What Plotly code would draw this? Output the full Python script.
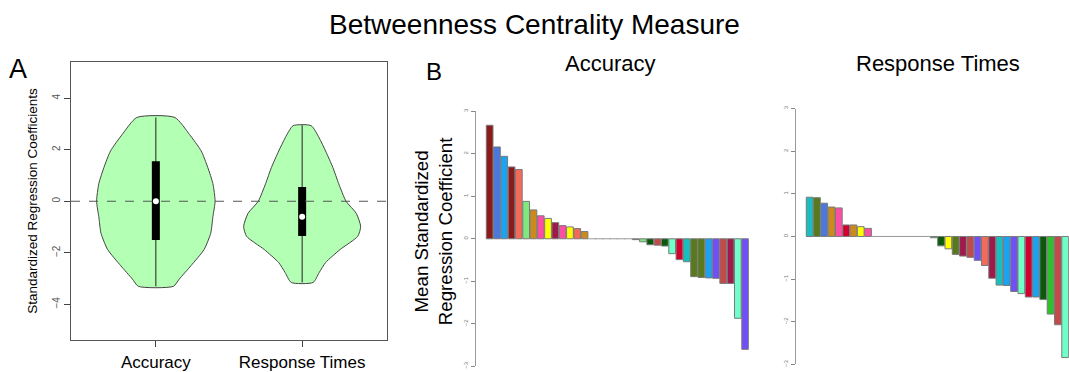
import plotly.graph_objects as go

W, H = 1069, 372
FONT = "Liberation Sans, Arial, sans-serif"

# ---------------- Panel A data (violin outlines) ----------
violin_cats = ["Accuracy", "Response Times"]
acc_vy = [3.25, 2.59, 1.95, 1.31, 0.68, 0.0, -0.6, -1.24, -1.87, -2.5, -3.02, -3.3]
acc_hw = [0.13, 0.23, 0.31, 0.355, 0.39, 0.405, 0.39, 0.375, 0.33, 0.24, 0.16, 0.12]
rt_vy = [2.93, 2.46, 1.95, 1.31, 0.68, 0.0, -0.47, -0.98, -1.36, -1.87, -2.38, -2.77, -3.15]
rt_hw = [0.062, 0.116, 0.16, 0.21, 0.25, 0.30, 0.37, 0.40, 0.38, 0.26, 0.16, 0.116, 0.075]
box_min = [-3.3, -3.15]
box_q1 = [-1.5, -1.35]
box_med = [0.0, -0.6]
box_q3 = [1.55, 0.55]
box_max = [3.25, 2.95]

# ---------------- Panel B data ----------------
acc_vals = [2.67, 2.16, 1.94, 1.69, 1.63, 0.88, 0.68, 0.54, 0.48, 0.38, 0.31, 0.28, 0.24, 0.17,
            0, 0, 0, 0, 0, 0,
            -0.02, -0.07, -0.14, -0.15, -0.17, -0.35, -0.49, -0.54, -0.89, -0.91, -0.92, -0.93,
            -1.05, -1.05, -1.87, -2.6]
acc_cols = ["#8B1A1A", "#4A78DC", "#1AA3F0", "#8B1A1A", "#F26A5A", "#7FE87F", "#CD8A1A", "#FF4DA6",
            "#FFFF00", "#9E1A4A", "#FF4DA6", "#FFFF00", "#F26A5A", "#CD8A1A",
            "#888888", "#888888", "#888888", "#888888", "#888888", "#888888",
            "#5F9E8F", "#7FE87F", "#0A5A0A", "#C24A4A", "#0A5A0A", "#70FFC8", "#D2002E", "#19BEBE",
            "#587A1C", "#587A1C", "#1AA3F0", "#7050F5", "#C24A4A", "#9E1A4A", "#70FFC8", "#7050F5"]
rt_vals = [0.92, 0.91, 0.78, 0.69, 0.67, 0.27, 0.27, 0.23, 0.19,
           0, 0, 0, 0, 0, 0, 0, 0,
           -0.03, -0.22, -0.29, -0.42, -0.46, -0.49, -0.56, -0.68, -0.98, -1.14, -1.15, -1.29,
           -1.34, -1.42, -1.42, -1.48, -1.82, -2.07, -2.84]
rt_cols = ["#19BEBE", "#587A1C", "#4A78DC", "#CD8A1A", "#FF4DA6", "#D2002E", "#CD8A1A", "#FFFF00", "#FF4DA6",
           "#888888", "#888888", "#888888", "#888888", "#888888", "#888888", "#888888", "#888888",
           "#2DC22D", "#0A5A0A", "#FFFF00", "#587A1C", "#9E1A4A", "#C24A4A", "#7050F5", "#F26A5A",
           "#9E1A4A", "#19BEBE", "#1AA3F0", "#7050F5", "#70FFC8", "#D2002E", "#1AA3F0", "#0A5A0A",
           "#2DC22D", "#C24A4A", "#70FFC8"]


def px_x(a, b):
    return [a / W, b / W]


def px_y(top, bottom):
    return [1 - bottom / H, 1 - top / H]


fig = go.Figure()

# ---- Panel A violins ----
for i, (vy, hw) in enumerate([(acc_vy, acc_hw), (rt_vy, rt_hw)]):
    c = i + 1
    xs = [c + h for h in hw] + [c - h for h in reversed(hw)] + [c + hw[0]]
    ys = list(vy) + list(reversed(vy)) + [vy[0]]
    fig.add_trace(go.Scatter(x=xs, y=ys, mode="lines", fill="toself", fillcolor="#B3FFB3",
                             line=dict(color="#444444", width=1, shape="spline", smoothing=0.6),
                             xaxis="x", yaxis="y", showlegend=False, hoverinfo="skip"))
    fig.add_trace(go.Scatter(x=[c, c], y=[box_min[i], box_max[i]], mode="lines",
                             line=dict(color="#222222", width=1), xaxis="x", yaxis="y",
                             showlegend=False))
    fig.add_trace(go.Scatter(x=[c, c], y=[box_q1[i], box_q3[i]], mode="lines",
                             line=dict(color="black", width=8), xaxis="x", yaxis="y",
                             showlegend=False))
    fig.add_trace(go.Scatter(x=[c], y=[box_med[i]], mode="markers",
                             marker=dict(color="white", size=6), xaxis="x", yaxis="y",
                             showlegend=False))

# ---- Panel B bars ----
for vals, cols, xa, ya in [(acc_vals, acc_cols, "x2", "y2"), (rt_vals, rt_cols, "x3", "y3")]:
    idx = list(range(len(vals)))
    nz = [i for i in idx if vals[i] != 0]
    z = [i for i in idx if vals[i] == 0]
    fig.add_trace(go.Bar(x=nz, y=[vals[i] for i in nz],
                         marker=dict(color=[cols[i] for i in nz], line=dict(color="#7a7a7a", width=1)),
                         xaxis=xa, yaxis=ya, showlegend=False))
    fig.add_trace(go.Scatter(x=z, y=[vals[i] for i in z], mode="markers",
                             marker=dict(symbol="line-ew", size=6,
                                         line=dict(color="#9a9a9a", width=1)),
                             xaxis=xa, yaxis=ya, showlegend=False))

tick_font = dict(family=FONT, size=10, color="#555555")
small_tick_font = dict(family=FONT, size=6, color="#777777")

fig.update_layout(
    width=W, height=H, margin=dict(l=0, r=0, t=0, b=0),
    paper_bgcolor="white", plot_bgcolor="white",
    bargap=0.08, font=dict(family=FONT),
    xaxis=dict(domain=px_x(71, 387), range=[0.42, 2.58], tickvals=[1, 2], ticktext=violin_cats,
               ticks="outside", ticklen=6, tickcolor="#444444", showline=True, linecolor="#555555",
               mirror=True, showgrid=False, zeroline=False,
               tickfont=dict(family=FONT, size=17, color="black")),
    yaxis=dict(domain=px_y(60, 343), range=[-5.4, 5.4], tickvals=[-4, -2, 0, 2, 4],
               ticks="outside", ticklen=6, tickcolor="#444444", tickangle=-90, showline=True,
               linecolor="#555555", mirror=True, showgrid=False, zeroline=False,
               tickfont=tick_font),
    xaxis2=dict(domain=px_x(475.7, 748.8), range=[-1.91, 35.5], visible=False),
    yaxis2=dict(domain=px_y(110, 369.3), range=[-3, 3], anchor="x2", tickvals=[-3, -2, -1, 0, 1, 2, 3],
                ticks="outside", ticklen=4, tickcolor="#888888", tickangle=-90, showline=True,
                linecolor="#999999", showgrid=False, zeroline=False, tickfont=small_tick_font),
    xaxis3=dict(domain=px_x(795.7, 1068.8), range=[-1.91, 35.5], visible=False),
    yaxis3=dict(domain=px_y(107.3, 367.3), range=[-3, 3], anchor="x3", tickvals=[-3, -2, -1, 0, 1, 2, 3],
                ticks="outside", ticklen=4, tickcolor="#888888", tickangle=-90, showline=True,
                linecolor="#999999", showgrid=False, zeroline=False, tickfont=small_tick_font),
)

fig.add_shape(type="line", xref="x domain", yref="y", x0=0, x1=1, y0=0, y1=0,
              line=dict(color="#555555", width=1, dash="dash"))

ann = [
    dict(text="Betweenness Centrality Measure", x=534 / W, y=1 - 22 / H, size=28),
    dict(text="A", x=18 / W, y=1 - 67 / H, size=27),
    dict(text="B", x=434 / W, y=1 - 70 / H, size=24),
    dict(text="Accuracy", x=610 / W, y=1 - 62 / H, size=22),
    dict(text="Response Times", x=938 / W, y=1 - 62 / H, size=22),
]
for a in ann:
    fig.add_annotation(text=a["text"], x=a["x"], y=a["y"], xref="paper", yref="paper",
                       showarrow=False, xanchor="center", yanchor="middle",
                       font=dict(family=FONT, size=a["size"], color="black"))

fig.add_annotation(text="Standardized Regression Coefficients", x=33 / W, y=1 - 201 / H,
                   xref="paper", yref="paper", showarrow=False, textangle=-90,
                   xanchor="center", yanchor="middle", font=dict(family=FONT, size=13.5, color="black"))
fig.add_annotation(text="Mean Standardized<br>Regression Coefficient", x=433 / W, y=1 - 232 / H,
                   xref="paper", yref="paper", showarrow=False, textangle=-90,
                   xanchor="center", yanchor="middle", font=dict(family=FONT, size=18.7, color="black"))

fig.write_html("out.html")
